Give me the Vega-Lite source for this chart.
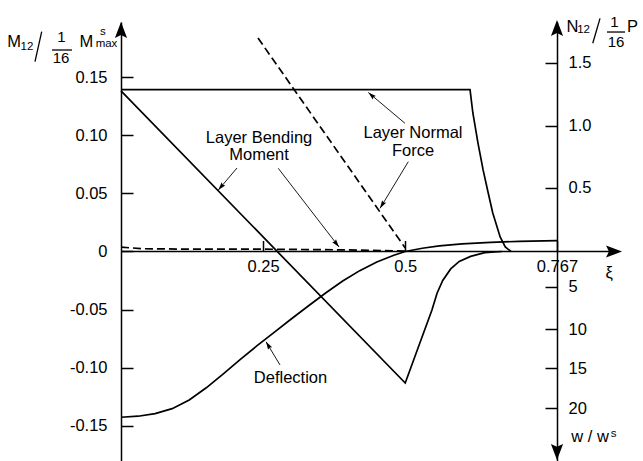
{
"$schema": "https://vega.github.io/schema/vega-lite/v6.json",
"width": 436, "height": 439, "autosize": "none",
"padding": {"left": 121, "top": 22, "right": 86, "bottom": 0},
"background": "white",
"config": {
  "view": {"stroke": null},
  "font": "Liberation Sans",
  "axis": {"grid": false, "title": null, "domainColor": "black", "tickColor": "black", "labelColor": "black", "labelFont": "Liberation Sans", "labelFontSize": 16.5, "domainWidth": 1.5, "tickWidth": 1.5},
  "axisLeft": {"tickSize": -12, "labelPadding": 26},
  "axisRight": {"tickSize": -12, "labelPadding": 23, "labelAlign": "left"},
  "axisBottom": {"tickSize": -11, "labelPadding": 18, "labelFlush": false, "domain": false}
},
"datasets": {
  "solid": [
    {"s": "bend", "x": 0, "y": 0.1385}, {"s": "bend", "x": 0.5, "y": -0.1134}, {"s": "bend", "x": 0.547, "y": -0.0504},
    {"s": "bend", "x": 0.556, "y": -0.036}, {"s": "bend", "x": 0.566, "y": -0.025}, {"s": "bend", "x": 0.58, "y": -0.015},
    {"s": "bend", "x": 0.595, "y": -0.0085}, {"s": "bend", "x": 0.615, "y": -0.0042}, {"s": "bend", "x": 0.64, "y": -0.001}, {"s": "bend", "x": 0.67, "y": 0},
    {"s": "norm", "x": 0, "y": 0.1395}, {"s": "norm", "x": 0.614, "y": 0.1395}, {"s": "norm", "x": 0.619, "y": 0.1194},
    {"s": "norm", "x": 0.628, "y": 0.0935}, {"s": "norm", "x": 0.637, "y": 0.0703}, {"s": "norm", "x": 0.646, "y": 0.0504},
    {"s": "norm", "x": 0.654, "y": 0.0332}, {"s": "norm", "x": 0.667, "y": 0.0125}, {"s": "norm", "x": 0.676, "y": 0.0039}, {"s": "norm", "x": 0.686, "y": 0},
    {"s": "defl", "x": 0, "y": -0.1429}, {"s": "defl", "x": 0.03, "y": -0.142}, {"s": "defl", "x": 0.06, "y": -0.1398},
    {"s": "defl", "x": 0.09, "y": -0.1355}, {"s": "defl", "x": 0.12, "y": -0.128}, {"s": "defl", "x": 0.15, "y": -0.1175},
    {"s": "defl", "x": 0.18, "y": -0.1055}, {"s": "defl", "x": 0.21, "y": -0.093}, {"s": "defl", "x": 0.24, "y": -0.081},
    {"s": "defl", "x": 0.27, "y": -0.0695}, {"s": "defl", "x": 0.3, "y": -0.058}, {"s": "defl", "x": 0.33, "y": -0.0468},
    {"s": "defl", "x": 0.36, "y": -0.0358}, {"s": "defl", "x": 0.39, "y": -0.0255}, {"s": "defl", "x": 0.42, "y": -0.0165},
    {"s": "defl", "x": 0.45, "y": -0.009}, {"s": "defl", "x": 0.48, "y": -0.0032}, {"s": "defl", "x": 0.5, "y": 0},
    {"s": "defl", "x": 0.53, "y": 0.0028}, {"s": "defl", "x": 0.56, "y": 0.0048}, {"s": "defl", "x": 0.6, "y": 0.0066},
    {"s": "defl", "x": 0.65, "y": 0.0079}, {"s": "defl", "x": 0.7, "y": 0.0087}, {"s": "defl", "x": 0.767, "y": 0.0093}
  ],
  "dashed": [
    {"s": "norm2", "x": 0.241, "y": 0.184}, {"s": "norm2", "x": 0.5, "y": 0.003},
    {"s": "bend2", "x": 0, "y": 0.0037}, {"s": "bend2", "x": 0.04, "y": 0.0024}, {"s": "bend2", "x": 0.1, "y": 0.0021},
    {"s": "bend2", "x": 0.25, "y": 0.002}, {"s": "bend2", "x": 0.4, "y": 0.0014}, {"s": "bend2", "x": 0.5, "y": 0.0003}
  ],
  "big": [
    {"x": 0.2428, "y": 0.0936, "t": "Layer Bending"},
    {"x": 0.2428, "y": 0.0786, "t": "Moment"},
    {"x": 0.5137, "y": 0.0976, "t": "Layer Normal"},
    {"x": 0.5137, "y": 0.0826, "t": "Force"},
    {"x": 0.2982, "y": -0.1134, "t": "Deflection"},
    {"x": -0.1882, "y": 0.1763, "t": "M"},
    {"x": -0.0607, "y": 0.1763, "t": "M"},
    {"x": 0.7943, "y": 0.1892, "t": "N"},
    {"x": 0.8999, "y": 0.1892, "t": "P"},
    {"x": 0.8251, "y": -0.164, "t": "w / w"},
    {"x": 0.8586, "y": -0.0228, "t": "ξ"}
  ],
  "small": [
    {"x": -0.1654, "y": 0.1737, "t": "12"},
    {"x": -0.0317, "y": 0.1866, "t": "s"},
    {"x": -0.0255, "y": 0.1763, "t": "max"},
    {"x": 0.8137, "y": 0.1884, "t": "12"},
    {"x": 0.8665, "y": -0.1599, "t": "s"}
  ],
  "frac": [
    {"x": -0.1047, "y": 0.1806, "t": "1"},
    {"x": -0.1056, "y": 0.1625, "t": "16"},
    {"x": 0.8682, "y": 0.1935, "t": "1"},
    {"x": 0.8709, "y": 0.1763, "t": "16"}
  ],
  "glyphs": [
    {"x": -0.1214, "x2": -0.0862, "y": 0.1737, "y2": 0.1737},
    {"x": -0.1513, "x2": -0.1395, "y": 0.1636, "y2": 0.1895},
    {"x": 0.855, "x2": 0.8867, "y": 0.1892, "y2": 0.1892},
    {"x": 0.8299, "x2": 0.8427, "y": 0.1795, "y2": 0.201}
  ],
  "xline": [{"x": 0, "x2": 0.872, "y": 0, "y2": 0}],
  "arrows": [
    {"x": 0.2041, "y": 0.072, "x2": 0.1712, "y2": 0.053, "dir": 220},
    {"x": 0.2767, "y": 0.0717, "x2": 0.3835, "y2": 0.0039, "dir": 142},
    {"x": 0.4996, "y": 0.1105, "x2": 0.4351, "y2": 0.1371, "dir": 311},
    {"x": 0.5054, "y": 0.0774, "x2": 0.4557, "y2": 0.0372, "dir": 211},
    {"x": 0.2797, "y": -0.0978, "x2": 0.2551, "y2": -0.0778, "dir": 329}
  ],
  "heads": [
    {"x": 0, "y": 0.19784, "dir": 0},
    {"x": 0.767, "y": 0.1996, "dir": 0},
    {"x": 0.767, "y": -0.1797, "dir": 180},
    {"x": 0.8814, "y": 0, "dir": 90}
  ]
},
"layer": [
  {"layer": [
    {"data": {"name": "solid"}, "mark": {"type": "line", "color": "black", "strokeWidth": 1.7},
     "encoding": {
       "x": {"field": "x", "type": "quantitative", "scale": {"domain": [0, 0.767], "nice": false, "zero": false},
             "axis": {"orient": "bottom", "offset": -209.5, "values": [0.25, 0.5, 0.767], "labelExpr": "datum.value == 0.5 ? '0.5' : datum.value == 0.25 ? '0.25' : '0.767'"}},
       "y": {"field": "y", "type": "quantitative", "scale": {"domain": [-0.1806, 0.19784], "nice": false, "zero": false},
             "axis": {"orient": "left", "values": [-0.15, -0.1, -0.05, 0, 0.05, 0.1, 0.15], "labelExpr": "datum.value == 0 ? '0' : (datum.value < 0 ? '-' : '') + format(abs(datum.value), '.2f')"}},
       "detail": {"field": "s"}
     }},
    {"data": {"name": "dashed"}, "mark": {"type": "line", "color": "black", "strokeWidth": 1.7, "strokeDash": [8, 4]},
     "encoding": {
       "x": {"field": "x", "type": "quantitative", "scale": {"domain": [0, 0.767], "nice": false, "zero": false}},
       "y": {"field": "y", "type": "quantitative", "scale": {"domain": [-0.1806, 0.19784], "nice": false, "zero": false}},
       "detail": {"field": "s"}
     }},
    {"data": {"name": "xline"}, "mark": {"type": "rule", "color": "black", "strokeWidth": 1.5},
     "encoding": {
       "x": {"field": "x", "type": "quantitative", "scale": {"domain": [0, 0.767], "nice": false, "zero": false}},
       "x2": {"field": "x2"},
       "y": {"field": "y", "type": "quantitative", "scale": {"domain": [-0.1806, 0.19784], "nice": false, "zero": false}}
     }},
    {"data": {"name": "glyphs"}, "mark": {"type": "rule", "color": "black", "strokeWidth": 1.3},
     "encoding": {
       "x": {"field": "x", "type": "quantitative", "scale": {"domain": [0, 0.767], "nice": false, "zero": false}},
       "x2": {"field": "x2"},
       "y": {"field": "y", "type": "quantitative", "scale": {"domain": [-0.1806, 0.19784], "nice": false, "zero": false}},
       "y2": {"field": "y2"}
     }},
    {"data": {"name": "arrows"}, "mark": {"type": "rule", "color": "black", "strokeWidth": 0.9},
     "encoding": {
       "x": {"field": "x", "type": "quantitative", "scale": {"domain": [0, 0.767], "nice": false, "zero": false}},
       "x2": {"field": "x2"},
       "y": {"field": "y", "type": "quantitative", "scale": {"domain": [-0.1806, 0.19784], "nice": false, "zero": false}},
       "y2": {"field": "y2"}
     }},
    {"data": {"name": "arrows"}, "mark": {"type": "point", "filled": true, "color": "black", "opacity": 1, "size": 256, "shape": "M0,0L0.3,1L0,0.85L-0.3,1Z"},
     "encoding": {
       "x": {"field": "x2", "type": "quantitative", "scale": {"domain": [0, 0.767], "nice": false, "zero": false}},
       "y": {"field": "y2", "type": "quantitative", "scale": {"domain": [-0.1806, 0.19784], "nice": false, "zero": false}},
       "angle": {"field": "dir", "type": "quantitative", "scale": null}
     }},
    {"data": {"name": "heads"}, "mark": {"type": "point", "filled": true, "color": "black", "opacity": 1, "size": 1024, "shape": "M0,0L0.38,1L0,0.82L-0.38,1Z"},
     "encoding": {
       "x": {"field": "x", "type": "quantitative", "scale": {"domain": [0, 0.767], "nice": false, "zero": false}},
       "y": {"field": "y", "type": "quantitative", "scale": {"domain": [-0.1806, 0.19784], "nice": false, "zero": false}},
       "angle": {"field": "dir", "type": "quantitative", "scale": null}
     }},
    {"data": {"name": "big"}, "mark": {"type": "text", "color": "black", "fontSize": 16.5, "font": "Liberation Sans", "align": "center", "baseline": "alphabetic"},
     "encoding": {
       "x": {"field": "x", "type": "quantitative", "scale": {"domain": [0, 0.767], "nice": false, "zero": false}},
       "y": {"field": "y", "type": "quantitative", "scale": {"domain": [-0.1806, 0.19784], "nice": false, "zero": false}},
       "text": {"field": "t"}
     }},
    {"data": {"name": "small"}, "mark": {"type": "text", "color": "black", "fontSize": 11.5, "font": "Liberation Sans", "align": "center", "baseline": "alphabetic"},
     "encoding": {
       "x": {"field": "x", "type": "quantitative", "scale": {"domain": [0, 0.767], "nice": false, "zero": false}},
       "y": {"field": "y", "type": "quantitative", "scale": {"domain": [-0.1806, 0.19784], "nice": false, "zero": false}},
       "text": {"field": "t"}
     }},
    {"data": {"name": "frac"}, "mark": {"type": "text", "color": "black", "fontSize": 15, "font": "Liberation Sans", "align": "center", "baseline": "alphabetic"},
     "encoding": {
       "x": {"field": "x", "type": "quantitative", "scale": {"domain": [0, 0.767], "nice": false, "zero": false}},
       "y": {"field": "y", "type": "quantitative", "scale": {"domain": [-0.1806, 0.19784], "nice": false, "zero": false}},
       "text": {"field": "t"}
     }}
  ]},
  {"data": {"values": [{"y": 0}]}, "mark": {"type": "point", "opacity": 0},
   "encoding": {
     "y": {"field": "y", "type": "quantitative", "scale": {"domain": [-0.1806, 0.19784], "nice": false, "zero": false},
           "axis": {"orient": "right", "values": [0.055, 0.1082, 0.1628, -0.0303, -0.0671, -0.1007, -0.1352],
                    "labelExpr": "datum.value > 0.15 ? '1.5' : datum.value > 0.1 ? '1.0' : datum.value > 0 ? '0.5' : datum.value > -0.05 ? '5' : datum.value > -0.08 ? '10' : datum.value > -0.12 ? '15' : '20'"}}
   }}
],
"resolve": {"scale": {"y": "independent"}}
}
